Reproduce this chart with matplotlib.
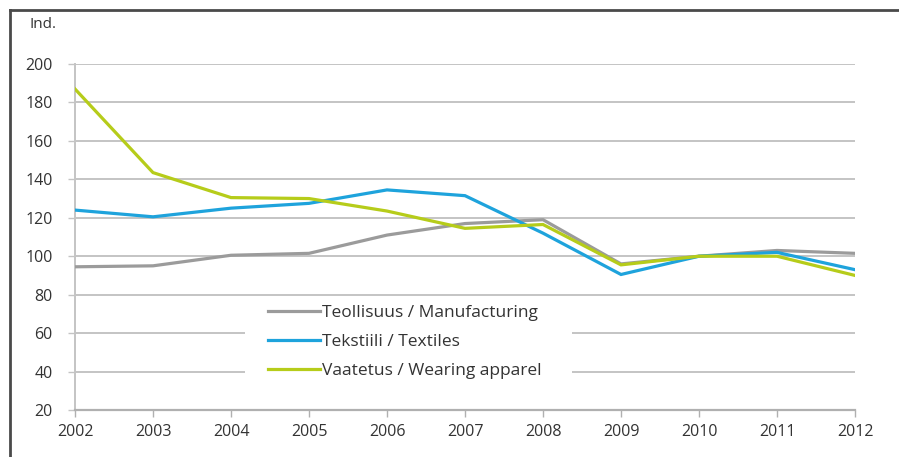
import matplotlib
matplotlib.use("Agg")
import matplotlib.pyplot as plt
from matplotlib.lines import Line2D
from matplotlib.patches import Rectangle

plt.rcParams['font.family'] = ['Open Sans', 'DejaVu Sans']

# Index series, 2010 = 100
years = [2002, 2003, 2004, 2005, 2006, 2007, 2008, 2009, 2010, 2011, 2012]
manufacturing = [94.5, 95, 100.5, 101.5, 111, 117, 119, 96, 100, 103, 101.5]
textiles = [124, 120.5, 125, 127.5, 134.5, 131.5, 112, 90.5, 100, 102, 93]
apparel = [187, 143.5, 130.5, 130, 123.5, 114.5, 116.5, 95.5, 100, 100, 90]

labels = ['Teollisuus / Manufacturing', 'Tekstiili / Textiles', 'Vaatetus / Wearing apparel']
colors = ['#9b9b9b', '#1ea3dc', '#b6cc1a']
yticks = [20, 40, 60, 80, 100, 120, 140, 160, 180, 200]
txt = '#333333'

fig = plt.figure(figsize=(8.99, 4.57), dpi=100)
ax = fig.add_axes([75 / 899, 1 - 410 / 457, 780 / 899, 346 / 457])

for series, lab, col in zip([manufacturing, textiles, apparel], labels, colors):
    ax.plot(years, series, color=col, lw=2.3, label=lab, solid_joinstyle='miter', zorder=3)

ax.set_xlim(2002, 2012)
ax.set_ylim(20, 200)
ax.set_xticks(years)
ax.set_yticks(yticks)
ax.yaxis.grid(True, color='#c4c4c4', lw=1.4)
ax.set_axisbelow(True)

for side in ['top', 'right']:
    ax.spines[side].set_visible(False)
ax.spines['left'].set_color('#c4c4c4')
ax.spines['bottom'].set_color('#b0b0b0')
ax.spines['left'].set_linewidth(1.4)
ax.spines['bottom'].set_linewidth(1.6)
ax.tick_params(axis='y', length=5, width=1, color='#c4c4c4', labelsize=11.5, labelcolor=txt, pad=11)
ax.tick_params(axis='x', length=5, width=1, color='#b0b0b0', labelsize=11.5, labelcolor=txt, pad=5)

ax.text(-0.058, 1.113, 'Ind.', transform=ax.transAxes, fontsize=11, color=txt, ha='left', va='center')

# white panel behind the legend hides the lower gridlines
ax.add_patch(Rectangle((2004.18, 31.4), 4.19, 45.8, facecolor='white', edgecolor='none', zorder=2))

leg = ax.legend(loc='upper left', bbox_to_anchor=(0.2474, 0.305), frameon=False, fontsize=12.5,
                handlelength=3.0, handletextpad=0.1, labelspacing=0.75, borderpad=0,
                borderaxespad=0)
for t in leg.get_texts():
    t.set_color(txt)

# dark frame along the top and left edges
fig.add_artist(Line2D([10 / 899, 10 / 899], [0, 1 - 10 / 457], color='#4a4a4a', lw=2, transform=fig.transFigure))
fig.add_artist(Line2D([10 / 899, 1], [1 - 10 / 457, 1 - 10 / 457], color='#4a4a4a', lw=2, transform=fig.transFigure))

fig.savefig('out.png', dpi=100)
